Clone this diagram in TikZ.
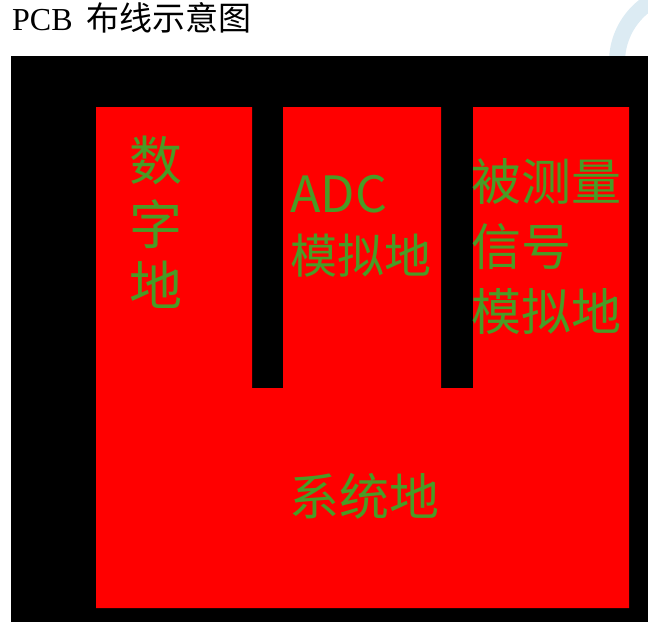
\documentclass[tikz,border=0pt]{standalone}
\usepackage{fontspec}
\setmainfont{Liberation Serif}
\newfontfamily\cjk{Noto Sans CJK SC}
\definecolor{pcbgreen}{RGB}{72,156,38}
\definecolor{arcblue}{RGB}{220,235,243}
\begin{document}
\begin{tikzpicture}[x=1pt,y=-1pt,
  lbl/.style={text=pcbgreen, font=\cjk\fontsize{50}{60}\selectfont, inner sep=0pt},
  lblsmall/.style={text=pcbgreen, font=\cjk\fontsize{47}{60}\selectfont, inner sep=0pt},
  lblbig/.style={text=pcbgreen, font=\cjk\fontsize{53}{60}\selectfont, inner sep=0pt}]
\useasboundingbox (0,0) rectangle (648,622);
% faint ring at top right
\begin{scope}
  \clip (0,0) rectangle (648,56);
  \draw[arcblue, line width=16pt] (688,62) circle[radius=71];
\end{scope}
% title
\node[anchor=base west, inner sep=0pt, font=\fontsize{32}{36}\selectfont] (title) at (12,30) {PCB\hspace{14pt}{\cjk\fontsize{33}{36}\selectfont 布线示意图}};
% board
\fill[black] (11,56) rectangle (648,622);
\fill[red] (96,107) -- (252,107) -- (252,388) -- (283,388) -- (283,107)
  -- (441,107) -- (441,388) -- (473,388) -- (473,107) -- (629,107)
  -- (629,608) -- (96,608) -- cycle;
% labels
\node[lblbig, anchor=base] (d1) at (156,180) {数};
\node[lblbig, anchor=base] (d2) at (156,244) {字};
\node[lblbig, anchor=base] (d3) at (156,305) {地};
\node[lbl, anchor=base west] (a1) at (290,212) {ADC};
\node[lblsmall, anchor=base west] (a2) at (290,273) {模拟地};
\node[lbl, anchor=base west] (m1) at (471,200) {被测量};
\node[lbl, anchor=base west] (m2) at (471,265) {信号};
\node[lbl, anchor=base west] (m3) at (471,330) {模拟地};
\node[lbl, anchor=base] (s1) at (364,515) {系统地};
\end{tikzpicture}
\end{document}
